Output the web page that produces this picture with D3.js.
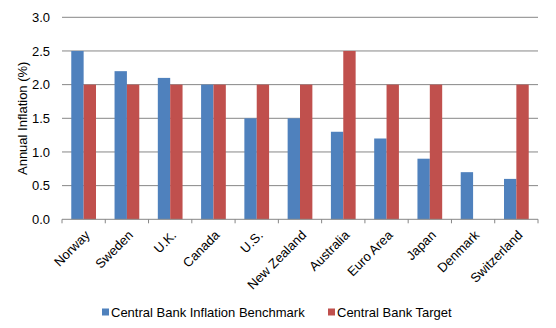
<!DOCTYPE html>
<html><head><meta charset="utf-8">
<script src="https://cdn.jsdelivr.net/npm/d3@7"></script>
<style>body{margin:0;background:#fff}svg{display:block;font-family:Arial,"Liberation Sans",sans-serif}</style>
</head><body><svg id="c" width="556" height="328"></svg>
<script>
const categories = ["Norway","Sweden","U.K.","Canada","U.S.","New Zealand","Australia","Euro Area","Japan","Denmark","Switzerland"];
const benchmark = [2.5,2.2,2.1,2.0,1.5,1.5,1.3,1.2,0.9,0.7,0.6];
const target = [2.0,2.0,2.0,2.0,2.0,2.0,2.5,2.0,2.0,null,2.0];
const seriesNames = ["Central Bank Inflation Benchmark","Central Bank Target"];
const colors = ["#4F81BD","#C0504D"];
const yTicks = [0,0.5,1.0,1.5,2.0,2.5,3.0];

const svg = d3.select("#c");
const L = 62, R = 538, T = 17.3, B = 219.3;
const FS = 13;
const x = d3.scaleBand().domain(categories).range([L,R]).paddingInner(0).paddingOuter(0);
const y = d3.scaleLinear().domain([0,3]).range([B,T]);
const gw = x.bandwidth()/1.75;
const xs = d3.scaleBand().domain([0,1]).range([0,gw]);

// gridlines
svg.append("g").selectAll("line").data(yTicks.filter(d=>d>0)).join("line")
  .attr("x1",L).attr("x2",R).attr("y1",d=>y(d)).attr("y2",d=>y(d))
  .attr("stroke","#868686").attr("stroke-width",1);

// y labels
svg.append("g").selectAll("text").data(yTicks).join("text")
  .attr("x",50).attr("y",d=>y(d)).attr("dy","0.35em").attr("text-anchor","end")
  .attr("font-size",FS).attr("fill","#000").text(d=>d3.format(".1f")(d));

// bars
const series = [benchmark,target];
series.forEach((vals,si)=>{
  svg.append("g").selectAll("rect").data(categories.map((c,i)=>({c,v:vals[i]})).filter(d=>d.v!=null)).join("rect")
    .attr("x",d=>x(d.c)+(x.bandwidth()-gw)/2+xs(si))
    .attr("width",xs.bandwidth())
    .attr("y",d=>y(d.v)).attr("height",d=>B-y(d.v))
    .attr("fill",colors[si]);
});

// x axis
svg.append("line").attr("x1",L).attr("x2",R).attr("y1",B).attr("y2",B).attr("stroke","#868686");
const ticksX = categories.map(c=>x(c)).concat([R]);
svg.append("g").selectAll("line").data(ticksX).join("line")
  .attr("x1",d=>d).attr("x2",d=>d).attr("y1",B).attr("y2",B+4).attr("stroke","#868686");

svg.append("g").selectAll("text").data(categories).join("text")
  .attr("transform",d=>`translate(${x(d)+x.bandwidth()/2+7},${236}) rotate(-45)`)
  .attr("text-anchor","end").attr("font-size",FS).text(d=>d);

// y title
svg.append("text").attr("transform",`translate(22,${(T+B)/2}) rotate(-90)`)
  .attr("text-anchor","middle").attr("dy","0.35em").attr("font-size",FS).text("Annual Inflation (%)");

// legend
const legX = [102,328];
seriesNames.forEach((n,i)=>{
  svg.append("rect").attr("x",legX[i]).attr("y",308.5).attr("width",7).attr("height",7).attr("fill",colors[i]);
  svg.append("text").attr("x",legX[i]+9).attr("y",317).attr("font-size",FS).text(n);
});
</script></body></html>
